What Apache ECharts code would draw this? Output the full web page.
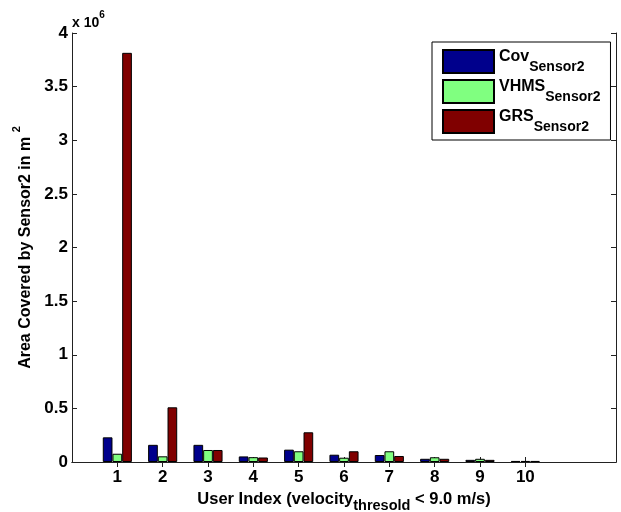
<!DOCTYPE html>
<html>
<head>
<meta charset="utf-8">
<script src="https://cdn.jsdelivr.net/npm/echarts@6/dist/echarts.min.js"></script>
<style>
html,body{margin:0;padding:0;background:#fff;overflow:hidden;}
#chart{width:621px;height:512px;}
</style>
</head>
<body>
<div id="chart"></div>
<script>
// ---- data ----
var users = ['1','2','3','4','5','6','7','8','9','10'];
var covSensor2  = [230000, 160000, 160000, 52000, 115000, 68000, 65000, 30000, 20000, 10000];
var vhmsSensor2 = [77000, 53000, 112000, 45000, 100000, 40000, 100000, 44000, 30000, 10000];
var grsSensor2  = [3815000, 510000, 112000, 42000, 277000, 100000, 56000, 30000, 20000, 10000];
var yTicks = [0, 0.5, 1, 1.5, 2, 2.5, 3, 3.5, 4]; // x 10^6

// x axis runs 0..12 (MATLAB style), users at 1..10
var cats = [''].concat(users).concat(['', '']);
function pad(arr){ return ['-'].concat(arr).concat(['-','-']); }

var FONT = "'Liberation Sans', Arial, sans-serif";
var AX = '#222';

var chart = echarts.init(document.getElementById('chart'), null, {renderer:'canvas'});

function tickOnUsers(idx){ return idx >= 1 && idx <= users.length; }

var option = {
  animation: false,
  backgroundColor: '#fff',
  textStyle: {fontFamily: FONT},
  title: {
    text: '{a|x 10}{b|6}',
    left: 72, top: 10,
    padding: 0,
    textStyle: {
      rich: {
        a: {fontFamily: FONT, fontSize: 14, fontWeight: 'bold', color: '#000', verticalAlign: 'bottom', lineHeight: 20},
        b: {fontFamily: FONT, fontSize: 10, fontWeight: 'bold', color: '#000', verticalAlign: 'top', lineHeight: 20}
      }
    }
  },
  grid: {left: 72, right: 5, top: 33, bottom: 50, containLabel: false, outerBoundsMode: 'none'},
  legend: {
    orient: 'vertical',
    left: 432, top: 42,
    padding: [7, 10, 6, 10],
    itemGap: 5,
    itemWidth: 51, itemHeight: 23,
    icon: 'rect',
    borderColor: '#000', borderWidth: 1,
    backgroundColor: '#fff',
    data: ['Cov', 'VHMS', 'GRS'],
    formatter: function(n){ return '{m|' + n + '}{s|Sensor2}'; },
    textStyle: {
      rich: {
        m: {fontFamily: FONT, fontSize: 16, fontWeight: 'bold', color: '#000', verticalAlign: 'top', lineHeight: 25},
        s: {fontFamily: FONT, fontSize: 14, fontWeight: 'bold', color: '#000', verticalAlign: 'bottom', lineHeight: 16}
      }
    }
  },
  xAxis: [{
    type: 'category',
    data: cats,
    boundaryGap: false,
    position: 'bottom',
    axisLine: {show: true, lineStyle: {color: AX, width: 1}},
    axisTick: {show: true, inside: true, length: 5, interval: function(i){ return tickOnUsers(i); }, lineStyle: {color: AX}},
    axisLabel: {show: true, interval: 0, margin: 7, fontFamily: FONT, fontSize: 17, fontWeight: 'bold', color: '#000'},
    splitLine: {show: false},
    name: '{m|User Index (velocity}{s|thresold}{m| < 9.0 m/s)}',
    nameLocation: 'middle',
    nameGap: 25,
    nameTextStyle: {
      rich: {
        m: {fontFamily: FONT, fontSize: 16.5, fontWeight: 'bold', color: '#000', verticalAlign: 'top', lineHeight: 23},
        s: {fontFamily: FONT, fontSize: 14.5, fontWeight: 'bold', color: '#000', verticalAlign: 'bottom', lineHeight: 16}
      }
    }
  }, {
    type: 'category',
    data: cats,
    boundaryGap: false,
    position: 'top',
    axisLine: {show: true, lineStyle: {color: AX, width: 1}},
    axisTick: {show: true, inside: true, length: 5, interval: function(i){ return tickOnUsers(i); }, lineStyle: {color: AX}},
    axisLabel: {show: false},
    splitLine: {show: false}
  }],
  yAxis: [{
    type: 'value',
    min: 0, max: 4000000, interval: 500000,
    position: 'left',
    axisLine: {show: true, lineStyle: {color: AX, width: 1}},
    axisTick: {show: true, inside: true, length: 5, lineStyle: {color: AX}},
    axisLabel: {margin: 4, fontFamily: FONT, fontSize: 17, fontWeight: 'bold', color: '#000',
      formatter: function(v){ return String(yTicks[Math.round(v / 500000)]); }},
    splitLine: {show: false},
    name: '{m|Area Covered by Sensor2 in m }{p|2}',
    nameLocation: 'middle',
    nameRotate: 90,
    nameGap: 37,
    nameTextStyle: {
      rich: {
        m: {fontFamily: FONT, fontSize: 16, fontWeight: 'bold', color: '#000', verticalAlign: 'bottom', lineHeight: 22},
        p: {fontFamily: FONT, fontSize: 11, fontWeight: 'bold', color: '#000', verticalAlign: 'top', lineHeight: 13}
      }
    }
  }, {
    type: 'value',
    min: 0, max: 4000000, interval: 500000,
    position: 'right',
    axisLine: {show: true, lineStyle: {color: AX, width: 1}},
    axisTick: {show: true, inside: true, length: 5, lineStyle: {color: AX}},
    axisLabel: {show: false},
    splitLine: {show: false}
  }],
  series: [{
    name: 'Cov', type: 'bar', xAxisIndex: 0, yAxisIndex: 0,
    data: pad(covSensor2),
    barWidth: 9.7, barGap: '0%',
    itemStyle: {color: '#00008C', borderColor: '#000', borderWidth: 1}
  }, {
    name: 'VHMS', type: 'bar', xAxisIndex: 0, yAxisIndex: 0,
    data: pad(vhmsSensor2),
    barWidth: 9.7, barGap: '0%',
    itemStyle: {color: '#80FF80', borderColor: '#000', borderWidth: 1}
  }, {
    name: 'GRS', type: 'bar', xAxisIndex: 0, yAxisIndex: 0,
    data: pad(grsSensor2),
    barWidth: 9.7, barGap: '0%',
    itemStyle: {color: '#800000', borderColor: '#000', borderWidth: 1}
  }]
};
chart.setOption(option);
</script>
</body>
</html>
